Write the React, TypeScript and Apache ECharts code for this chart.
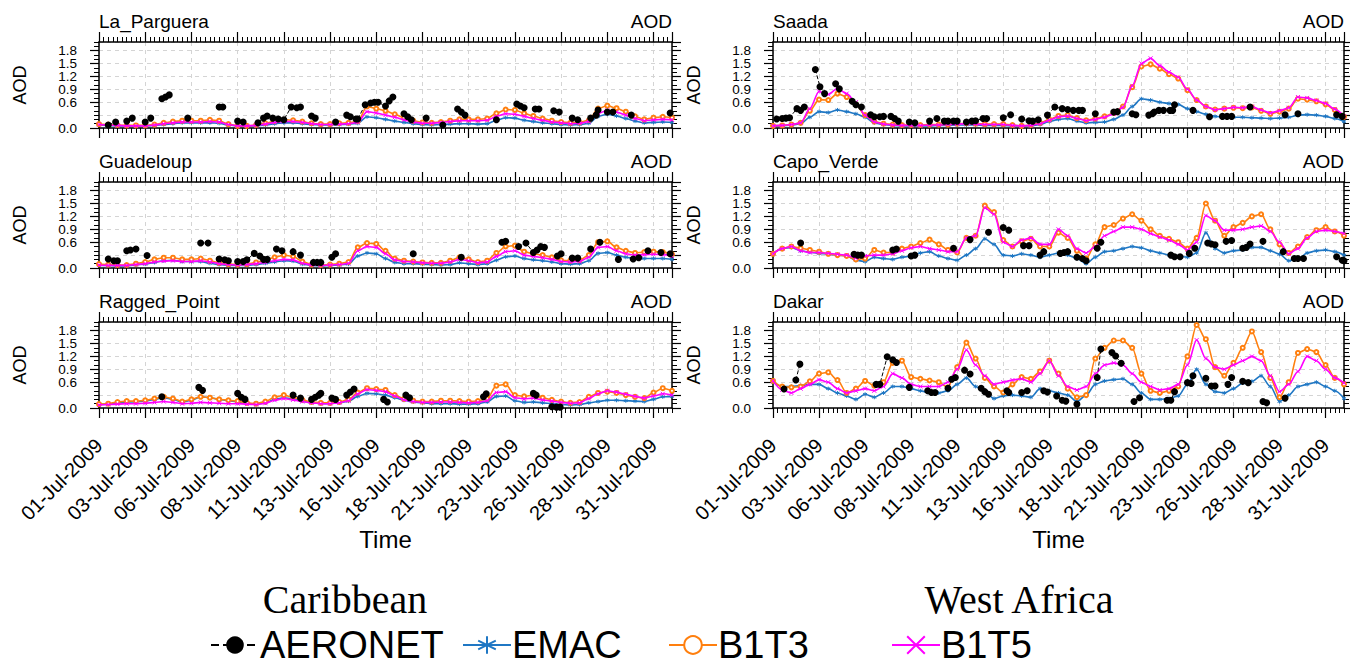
import React, { useEffect, useRef } from 'react';
import * as echarts from 'echarts';

// model output every 12 h, in days since 01-Jul-2009 00:00
const timeSteps: number[] = Array.from({ length: 63 }, (_, i) => i * 0.5);
const dateTickLabels = ['01-Jul-2009', '03-Jul-2009', '06-Jul-2009', '08-Jul-2009', '11-Jul-2009', '13-Jul-2009', '16-Jul-2009', '18-Jul-2009', '21-Jul-2009', '23-Jul-2009', '26-Jul-2009', '28-Jul-2009', '31-Jul-2009'];
const regionTitles = ['Caribbean', 'West Africa'];
const seriesNames = ['AERONET', 'EMAC', 'B1T3', 'B1T5'];

// ---------------- La_Parguera ----------------
const laParguera_EMAC = [0.07,0.06,0.05,0.05,0.05,0.05,0.06,0.08,0.1,0.12, 0.12,0.12,0.12,0.11,0.07,0.05,0.05,0.05,0.07,0.1, 0.12,0.12,0.1,0.08,0.07,0.07,0.08,0.09,0.11,0.26, 0.24,0.2,0.16,0.13,0.1,0.08,0.07,0.08,0.09,0.1, 0.1,0.09,0.1,0.18,0.24,0.23,0.18,0.15,0.12,0.1, 0.08,0.07,0.08,0.11,0.27,0.32,0.28,0.22,0.16,0.12, 0.13,0.14,0.13];
const laParguera_B1T3 = [0.09,0.08,0.07,0.06,0.06,0.06,0.08,0.12,0.15,0.17, 0.17,0.17,0.19,0.17,0.09,0.05,0.05,0.07,0.11,0.16, 0.19,0.18,0.15,0.11,0.09,0.09,0.11,0.12,0.16,0.5, 0.45,0.4,0.32,0.24,0.17,0.13,0.12,0.14,0.17,0.2, 0.2,0.2,0.22,0.34,0.43,0.42,0.34,0.28,0.22,0.17, 0.14,0.12,0.13,0.18,0.45,0.52,0.46,0.38,0.27,0.2, 0.24,0.26,0.24];
const laParguera_B1T5 = [0.08,0.07,0.06,0.05,0.05,0.05,0.07,0.1,0.12,0.14, 0.14,0.14,0.15,0.14,0.08,0.05,0.05,0.06,0.09,0.13, 0.15,0.15,0.13,0.1,0.08,0.08,0.09,0.1,0.13,0.38, 0.35,0.3,0.25,0.19,0.14,0.11,0.11,0.13,0.15,0.17, 0.17,0.17,0.18,0.27,0.33,0.32,0.27,0.22,0.18,0.14, 0.12,0.1,0.11,0.15,0.34,0.41,0.37,0.3,0.22,0.17, 0.19,0.2,0.19];
const laParguera_AERONET = [[0.5,0.07],[0.9,0.14],[1.5,0.16],[1.8,0.23],[2.5,0.14],[2.8,0.23],[3.4,0.68],[3.6,0.72],[3.8,0.77],[4.8,0.23],[6.5,0.49],[6.7,0.49],[7.5,0.16],[7.8,0.14],[8.6,0.12],[8.9,0.23],[9.1,0.28],[9.4,0.23],[9.7,0.21],[10.0,0.19],[10.4,0.49],[10.7,0.47],[10.9,0.49],[11.5,0.28],[11.7,0.23],[12.8,0.14],[13.4,0.3],[13.6,0.26],[13.9,0.21],[14.0,0.21],[14.4,0.54],[14.7,0.58],[14.9,0.6],[15.1,0.6],[15.5,0.51],[15.7,0.63],[15.9,0.72],[16.5,0.33],[16.7,0.26],[16.9,0.19],[17.7,0.23],[18.6,0.07],[19.4,0.44],[19.6,0.37],[19.8,0.3],[21.5,0.19],[22.6,0.56],[22.8,0.51],[23.0,0.47],[23.6,0.44],[23.8,0.44],[24.6,0.4],[24.9,0.37],[25.6,0.23],[25.9,0.19],[26.6,0.23],[26.9,0.3],[27.0,0.42],[27.5,0.37],[27.8,0.37],[28.8,0.3],[30.9,0.35]];

// ---------------- Guadeloup ----------------
const guadeloup_EMAC = [0.06,0.06,0.05,0.05,0.07,0.09,0.13,0.17,0.18,0.15, 0.15,0.15,0.11,0.08,0.06,0.06,0.06,0.08,0.11,0.14, 0.17,0.16,0.09,0.06,0.05,0.06,0.07,0.09,0.28,0.35, 0.33,0.22,0.13,0.1,0.1,0.09,0.08,0.07,0.08,0.12, 0.1,0.08,0.1,0.18,0.26,0.28,0.22,0.19,0.17,0.14, 0.1,0.09,0.1,0.17,0.34,0.36,0.3,0.25,0.22,0.22, 0.22,0.22,0.2];
const guadeloup_B1T3 = [0.09,0.08,0.07,0.07,0.1,0.14,0.2,0.24,0.24,0.2, 0.2,0.22,0.17,0.12,0.09,0.08,0.09,0.13,0.18,0.25, 0.3,0.27,0.15,0.08,0.07,0.08,0.1,0.14,0.48,0.58, 0.56,0.4,0.22,0.17,0.15,0.13,0.12,0.12,0.17,0.25, 0.2,0.14,0.17,0.35,0.5,0.52,0.38,0.33,0.3,0.25, 0.18,0.17,0.18,0.3,0.6,0.62,0.48,0.4,0.35,0.37, 0.38,0.37,0.32];
const guadeloup_B1T5 = [0.07,0.06,0.06,0.06,0.08,0.1,0.14,0.16,0.17,0.15, 0.15,0.17,0.14,0.1,0.08,0.07,0.08,0.1,0.13,0.17, 0.2,0.19,0.11,0.07,0.06,0.07,0.08,0.11,0.4,0.5, 0.48,0.33,0.19,0.15,0.14,0.12,0.11,0.11,0.14,0.2, 0.17,0.12,0.14,0.27,0.38,0.4,0.3,0.27,0.24,0.2, 0.15,0.14,0.15,0.25,0.48,0.5,0.4,0.33,0.3,0.31, 0.32,0.31,0.28];
const guadeloup_AERONET = [[0.5,0.21],[0.8,0.17],[1.0,0.17],[1.5,0.4],[1.7,0.42],[2.0,0.44],[2.6,0.29],[5.5,0.58],[5.9,0.58],[6.5,0.21],[6.8,0.19],[7.0,0.17],[7.5,0.15],[7.8,0.15],[8.0,0.19],[8.4,0.34],[8.7,0.28],[8.9,0.2],[9.1,0.2],[9.6,0.44],[9.9,0.4],[10.5,0.38],[10.9,0.3],[11.6,0.13],[11.8,0.13],[12.0,0.13],[12.6,0.25],[12.8,0.33],[17.0,0.33],[19.6,0.25],[21.8,0.6],[22.0,0.62],[22.7,0.5],[23.1,0.58],[23.5,0.36],[23.7,0.42],[23.9,0.5],[24.1,0.48],[24.8,0.28],[25.0,0.33],[25.6,0.23],[25.9,0.23],[26.6,0.44],[27.1,0.6],[28.1,0.2],[28.9,0.21],[29.2,0.24],[29.7,0.4],[30.4,0.36],[30.9,0.33]];

// ---------------- Ragged_Point ----------------
const raggedPoint_EMAC = [0.08,0.09,0.12,0.14,0.14,0.16,0.2,0.24,0.2,0.14, 0.18,0.26,0.24,0.2,0.17,0.14,0.11,0.09,0.12,0.2, 0.24,0.21,0.16,0.12,0.1,0.1,0.12,0.16,0.27,0.34, 0.33,0.3,0.24,0.18,0.14,0.12,0.1,0.1,0.1,0.09, 0.09,0.1,0.14,0.27,0.28,0.17,0.13,0.14,0.12,0.1, 0.08,0.07,0.08,0.12,0.15,0.18,0.18,0.17,0.16,0.15, 0.2,0.26,0.27];
const raggedPoint_B1T3 = [0.09,0.1,0.14,0.16,0.16,0.18,0.22,0.26,0.22,0.15, 0.2,0.26,0.24,0.2,0.18,0.16,0.12,0.1,0.15,0.25, 0.3,0.25,0.19,0.14,0.12,0.12,0.14,0.2,0.36,0.46, 0.44,0.42,0.3,0.21,0.17,0.15,0.15,0.17,0.17,0.16, 0.15,0.16,0.22,0.52,0.55,0.3,0.27,0.3,0.24,0.19, 0.15,0.12,0.14,0.26,0.35,0.38,0.35,0.3,0.26,0.23, 0.36,0.46,0.4];
const raggedPoint_B1T5 = [0.07,0.08,0.09,0.1,0.1,0.11,0.13,0.15,0.13,0.1, 0.11,0.13,0.12,0.11,0.1,0.1,0.09,0.08,0.11,0.18, 0.22,0.19,0.15,0.12,0.1,0.1,0.12,0.17,0.33,0.43, 0.41,0.38,0.28,0.19,0.15,0.13,0.13,0.14,0.14,0.13, 0.12,0.13,0.17,0.36,0.38,0.24,0.21,0.23,0.19,0.16, 0.13,0.11,0.12,0.22,0.33,0.4,0.37,0.32,0.27,0.23, 0.28,0.33,0.3];
const raggedPoint_AERONET = [[3.4,0.26],[5.4,0.48],[5.6,0.41],[7.5,0.34],[7.7,0.25],[7.9,0.2],[10.5,0.3],[10.9,0.23],[11.5,0.2],[11.7,0.25],[11.9,0.3],[12.0,0.34],[12.6,0.23],[12.8,0.2],[13.4,0.3],[13.6,0.37],[13.8,0.44],[15.4,0.2],[15.6,0.14],[16.6,0.3],[16.8,0.24],[20.8,0.26],[20.95,0.33],[23.5,0.34],[23.65,0.3],[24.5,0.03],[24.75,0.02],[24.95,0.02]];

// ---------------- Saada ----------------
const saada_EMAC = [0.04,0.05,0.07,0.1,0.25,0.38,0.36,0.42,0.38,0.33, 0.25,0.12,0.08,0.06,0.05,0.05,0.05,0.05,0.06,0.06, 0.07,0.07,0.07,0.06,0.06,0.06,0.05,0.04,0.05,0.08, 0.15,0.2,0.22,0.16,0.12,0.13,0.14,0.2,0.3,0.5, 0.68,0.65,0.6,0.57,0.55,0.45,0.38,0.32,0.27,0.25, 0.25,0.25,0.24,0.23,0.22,0.23,0.25,0.3,0.31,0.3, 0.27,0.22,0.15];
const saada_B1T3 = [0.05,0.06,0.08,0.12,0.4,0.66,0.65,0.8,0.72,0.55, 0.3,0.15,0.1,0.08,0.07,0.07,0.07,0.08,0.08,0.08, 0.1,0.11,0.1,0.09,0.09,0.09,0.07,0.05,0.07,0.12, 0.2,0.28,0.3,0.23,0.18,0.22,0.27,0.35,0.5,0.95, 1.43,1.48,1.38,1.25,1.15,0.88,0.65,0.5,0.43,0.45, 0.47,0.46,0.48,0.4,0.33,0.38,0.45,0.68,0.66,0.62, 0.55,0.42,0.26];
const saada_B1T5 = [0.05,0.06,0.08,0.12,0.45,0.85,0.78,0.92,0.8,0.6, 0.3,0.14,0.09,0.07,0.06,0.06,0.06,0.07,0.07,0.08, 0.09,0.1,0.09,0.08,0.08,0.08,0.06,0.05,0.06,0.1, 0.18,0.26,0.28,0.22,0.17,0.2,0.25,0.33,0.48,0.98, 1.5,1.62,1.45,1.3,1.18,0.9,0.65,0.5,0.42,0.45, 0.48,0.47,0.5,0.42,0.35,0.4,0.47,0.72,0.7,0.64, 0.57,0.44,0.27];
const saada_AERONET = [[0.2,0.21],[0.5,0.22],[0.7,0.23],[0.9,0.24],[1.3,0.45],[1.5,0.41],[1.7,0.49],[2.3,1.36],[2.55,0.96],[2.8,0.8],[3.4,1.03],[3.6,0.91],[4.3,0.62],[4.5,0.54],[4.8,0.49],[5.3,0.31],[5.5,0.26],[5.8,0.26],[6.0,0.27],[6.4,0.27],[6.6,0.22],[6.8,0.16],[7.4,0.14],[7.7,0.12],[8.5,0.16],[8.9,0.22],[9.3,0.16],[9.5,0.16],[9.8,0.16],[10.0,0.16],[10.5,0.14],[10.8,0.16],[11.0,0.17],[11.4,0.22],[11.6,0.22],[12.5,0.24],[12.9,0.31],[13.5,0.21],[13.9,0.17],[14.1,0.16],[14.4,0.19],[14.9,0.3],[15.3,0.49],[15.7,0.45],[16.0,0.43],[16.3,0.41],[16.6,0.41],[16.8,0.41],[17.5,0.33],[18.5,0.37],[18.7,0.38],[19.5,0.33],[19.7,0.31],[20.4,0.3],[20.6,0.33],[20.7,0.37],[20.95,0.41],[21.2,0.41],[21.55,0.41],[21.7,0.41],[21.8,0.54],[22.8,0.41],[23.7,0.26],[24.4,0.27],[24.65,0.27],[24.9,0.27],[25.9,0.49],[27.8,0.31],[28.5,0.33],[30.6,0.31],[30.9,0.27]];

// ---------------- Capo_Verde ----------------
const capoVerde_EMAC = [0.33,0.45,0.48,0.4,0.37,0.34,0.32,0.3,0.28,0.18, 0.15,0.25,0.22,0.2,0.25,0.28,0.35,0.38,0.28,0.22, 0.18,0.3,0.45,0.68,0.55,0.3,0.28,0.33,0.3,0.25, 0.3,0.35,0.3,0.22,0.1,0.25,0.38,0.4,0.45,0.5, 0.47,0.4,0.35,0.3,0.27,0.25,0.35,0.82,0.45,0.35, 0.4,0.42,0.48,0.48,0.4,0.32,0.17,0.2,0.35,0.4, 0.42,0.38,0.3];
const capoVerde_B1T3 = [0.33,0.45,0.5,0.46,0.42,0.38,0.33,0.3,0.28,0.2, 0.22,0.42,0.36,0.36,0.45,0.5,0.58,0.66,0.55,0.42, 0.36,0.7,0.75,1.45,1.3,0.65,0.5,0.62,0.68,0.5, 0.5,0.82,0.7,0.4,0.22,0.55,0.95,1.0,1.15,1.25, 1.1,0.9,0.75,0.68,0.6,0.45,0.7,1.5,1.1,0.75, 0.95,1.05,1.2,1.25,0.9,0.55,0.35,0.5,0.72,0.88, 0.95,0.85,0.75];
const capoVerde_B1T5 = [0.33,0.45,0.5,0.4,0.36,0.36,0.34,0.32,0.3,0.23, 0.28,0.3,0.3,0.33,0.4,0.47,0.5,0.45,0.42,0.38, 0.38,0.7,0.75,1.4,1.25,0.6,0.5,0.65,0.7,0.55, 0.55,0.9,0.75,0.45,0.35,0.5,0.75,0.85,0.95,0.95, 0.9,0.8,0.72,0.65,0.55,0.42,0.6,1.22,1.1,0.88, 0.88,0.9,0.95,0.98,0.85,0.6,0.33,0.45,0.7,0.85, 0.88,0.85,0.8];
const capoVerde_AERONET = [[1.5,0.58],[4.4,0.32],[4.6,0.3],[4.8,0.3],[6.5,0.42],[6.7,0.44],[7.5,0.28],[7.7,0.3],[9.8,0.46],[10.7,0.66],[11.7,0.83],[12.5,0.94],[12.8,0.88],[13.6,0.52],[13.9,0.52],[14.5,0.3],[14.7,0.38],[15.6,0.34],[15.8,0.36],[16.0,0.38],[16.5,0.25],[16.8,0.22],[17.0,0.17],[17.6,0.46],[17.8,0.6],[21.6,0.3],[21.8,0.26],[22.1,0.26],[22.6,0.34],[22.9,0.46],[23.6,0.58],[23.8,0.56],[24.0,0.54],[24.6,0.62],[24.9,0.64],[25.5,0.46],[25.7,0.48],[25.9,0.56],[26.6,0.62],[27.7,0.38],[28.3,0.22],[28.5,0.22],[28.8,0.22],[30.6,0.26],[30.9,0.18],[31.0,0.17]];

// ---------------- Dakar ----------------
const dakar_EMAC = [0.6,0.5,0.5,0.52,0.55,0.55,0.45,0.35,0.28,0.2, 0.32,0.25,0.35,0.5,0.5,0.45,0.4,0.35,0.35,0.4, 0.55,0.7,0.5,0.38,0.22,0.28,0.3,0.28,0.25,0.45, 0.4,0.35,0.3,0.15,0.3,0.55,0.63,0.66,0.68,0.55, 0.35,0.2,0.2,0.22,0.28,0.55,0.9,0.55,0.38,0.35, 0.45,0.58,0.62,0.75,0.5,0.15,0.3,0.5,0.55,0.6, 0.5,0.4,0.22];
const dakar_B1T3 = [0.63,0.5,0.48,0.5,0.62,0.8,0.83,0.65,0.35,0.45, 0.63,0.52,0.6,1.05,1.1,0.72,0.68,0.64,0.6,0.48, 0.95,1.52,1.15,0.7,0.5,0.36,0.55,0.72,0.68,0.85, 1.1,0.8,0.45,0.25,0.3,1.15,1.4,1.57,1.57,1.4, 0.8,0.4,0.35,0.4,0.5,1.2,1.93,1.6,0.95,0.75, 1.05,1.4,1.78,1.3,0.7,0.25,0.6,1.28,1.37,1.3, 1.0,0.7,0.55];
const dakar_B1T5 = [0.63,0.42,0.35,0.45,0.55,0.66,0.6,0.45,0.35,0.4, 0.45,0.4,0.5,0.8,0.7,0.55,0.5,0.5,0.5,0.6, 0.9,1.35,1.0,0.75,0.55,0.6,0.65,0.68,0.6,0.8, 1.1,0.75,0.5,0.42,0.5,0.8,1.0,1.05,1.0,0.8, 0.6,0.5,0.42,0.45,0.55,1.0,1.58,1.15,0.95,0.9, 1.0,1.1,1.2,1.1,0.75,0.38,0.55,0.85,1.2,1.1, 0.9,0.7,0.58];
const dakar_AERONET = [[0.6,0.44],[1.24,0.65],[1.46,1.02],[5.6,0.55],[5.8,0.55],[6.2,1.19],[6.5,1.12],[6.7,1.06],[7.4,0.48],[8.4,0.4],[8.6,0.36],[8.8,0.36],[9.5,0.46],[9.7,0.67],[9.9,0.71],[10.4,0.88],[10.7,0.79],[11.3,0.46],[11.5,0.38],[11.7,0.32],[12.7,0.4],[12.8,0.36],[13.5,0.36],[13.8,0.4],[14.7,0.4],[14.9,0.37],[15.4,0.28],[15.7,0.18],[15.9,0.16],[16.5,0.09],[17.6,0.71],[17.8,1.37],[18.4,1.29],[18.6,1.21],[18.9,1.04],[19.6,0.15],[19.9,0.24],[21.4,0.18],[21.6,0.18],[21.8,0.38],[22.5,0.59],[22.7,0.57],[22.8,0.75],[23.5,0.69],[23.8,0.51],[24.0,0.51],[24.7,0.55],[24.9,0.71],[25.5,0.62],[25.8,0.59],[26.6,0.15],[26.8,0.12],[27.8,0.23]];

const panels = [
  { name: 'La_Parguera', col: 0, row: 0, emac: laParguera_EMAC, b1t3: laParguera_B1T3, b1t5: laParguera_B1T5, aeronet: laParguera_AERONET },
  { name: 'Guadeloup', col: 0, row: 1, emac: guadeloup_EMAC, b1t3: guadeloup_B1T3, b1t5: guadeloup_B1T5, aeronet: guadeloup_AERONET },
  { name: 'Ragged_Point', col: 0, row: 2, emac: raggedPoint_EMAC, b1t3: raggedPoint_B1T3, b1t5: raggedPoint_B1T5, aeronet: raggedPoint_AERONET },
  { name: 'Saada', col: 1, row: 0, emac: saada_EMAC, b1t3: saada_B1T3, b1t5: saada_B1T5, aeronet: saada_AERONET },
  { name: 'Capo_Verde', col: 1, row: 1, emac: capoVerde_EMAC, b1t3: capoVerde_B1T3, b1t5: capoVerde_B1T5, aeronet: capoVerde_AERONET },
  { name: 'Dakar', col: 1, row: 2, emac: dakar_EMAC, b1t3: dakar_B1T3, b1t5: dakar_B1T5, aeronet: dakar_AERONET },
];

const COLORS = { AERONET: '#000000', EMAC: '#1f77c4', B1T3: '#ff7f0e', B1T5: '#ff00ff' };
const FONT = "'Liberation Sans', Arial, Helvetica, sans-serif";
const SYM_ASTERISK = 'path://M5 0L5 10M0.67 2.5L9.33 7.5M9.33 2.5L0.67 7.5';
const SYM_CROSS = 'path://M0 0L10 10M10 0L0 10';

function withGaps(pts: number[][]) {
  const out: any[] = [];
  pts.forEach((p, i) => {
    if (i > 0 && p[0] - pts[i - 1][0] > 0.45) out.push([(p[0] + pts[i - 1][0]) / 2, '-']);
    out.push(p);
  });
  return out;
}

function xFormatter(v: number) {
  const k = v / 2.5;
  const r = Math.round(k);
  return Math.abs(k - r) < 1e-6 && r < dateTickLabels.length ? dateTickLabels[r] : '';
}

function buildOption() {
  const grid: any[] = [];
  const xAxis: any[] = [];
  const yAxis: any[] = [];
  const series: any[] = [];
  const graphic: any[] = [];
  const lineBlack = { color: '#000', width: 1.5 };

  panels.forEach((p, i) => {
    const left = p.col ? 773 : 99;
    const width = p.col ? 571 : 573;
    const top = 42 + 140 * p.row;
    grid.push({ left, top, width, height: 86 });
    const bottomRow = p.row === 2;

    const xBase = { type: 'value', gridIndex: i, min: 0, max: 31, axisLabel: { show: false }, splitLine: { show: false } };
    xAxis.push({
      ...xBase, position: 'bottom', interval: 2.5,
      axisLine: { show: true, onZero: false, lineStyle: lineBlack },
      axisTick: { show: true, length: 10, lineStyle: { color: '#000', width: 1.2 } },
      splitLine: { show: true, lineStyle: { type: [4, 4], color: '#d4d4d4', width: 1 } },
      axisLabel: bottomRow
        ? { show: true, rotate: 45, margin: 34, fontSize: 20, fontFamily: FONT, color: '#000', showMinLabel: true, showMaxLabel: false, formatter: xFormatter }
        : { show: false },
      name: bottomRow ? 'Time' : '', nameLocation: 'middle', nameGap: 119,
      nameTextStyle: { fontSize: 24, fontFamily: FONT, color: '#000' },
    });
    xAxis.push({ ...xBase, position: 'bottom', interval: 0.25, axisLine: { show: false, onZero: false }, axisTick: { show: true, length: 5, lineStyle: { color: '#000', width: 1 } } });
    xAxis.push({ ...xBase, position: 'top', interval: 2.5, axisLine: { show: true, onZero: false, lineStyle: lineBlack }, axisTick: { show: true, length: 10, lineStyle: { color: '#000', width: 1.2 } } });
    xAxis.push({ ...xBase, position: 'top', interval: 0.25, axisLine: { show: false, onZero: false }, axisTick: { show: true, length: 5, lineStyle: { color: '#000', width: 1 } } });

    const yBase = { type: 'value', gridIndex: i, min: 0, max: 2.0, axisLabel: { show: false }, splitLine: { show: false } };
    yAxis.push({
      ...yBase, position: 'left', interval: 0.3,
      axisLine: { show: true, onZero: false, lineStyle: lineBlack },
      axisTick: { show: true, length: 9, lineStyle: { color: '#000', width: 1.2 } },
      splitLine: { show: true, lineStyle: { type: [4, 4], color: '#d4d4d4', width: 1 } },
      axisLabel: { show: true, margin: 22, fontSize: 13.5, lineHeight: 12, fontFamily: FONT, color: '#000', showMinLabel: true, showMaxLabel: false, hideOverlap: false, formatter: (v: number) => v.toFixed(1) },
      name: 'AOD', nameLocation: 'middle', nameGap: 70, nameRotate: 90,
      nameTextStyle: { fontSize: 18, fontFamily: FONT, color: '#000' },
    });
    yAxis.push({ ...yBase, position: 'left', interval: 0.1, axisLine: { show: false, onZero: false }, axisTick: { show: true, length: 5, lineStyle: { color: '#000', width: 1 } } });
    yAxis.push({ ...yBase, position: 'right', interval: 0.3, axisLine: { show: true, onZero: false, lineStyle: lineBlack }, axisTick: { show: true, length: 9, lineStyle: { color: '#000', width: 1.2 } } });
    yAxis.push({ ...yBase, position: 'right', interval: 0.1, axisLine: { show: false, onZero: false }, axisTick: { show: true, length: 5, lineStyle: { color: '#000', width: 1 } } });

    const ax = { xAxisIndex: 4 * i, yAxisIndex: 4 * i };
    const model = (name: string, vals: number[], symbol: string, z: number) => ({
      type: 'line', name, ...ax, z,
      data: timeSteps.map((t, k) => [t, vals[k]]),
      smooth: 0.3, smoothMonotone: 'x',
      symbol, symbolSize: 4, showSymbol: true,
      lineStyle: { color: (COLORS as any)[name], width: 1.6 },
      itemStyle: { color: (COLORS as any)[name], borderColor: (COLORS as any)[name], borderWidth: 1 },
    });
    series.push(model('EMAC', p.emac, SYM_ASTERISK, 2));
    series.push(model('B1T3', p.b1t3, 'emptyCircle', 3));
    series.push(model('B1T5', p.b1t5, SYM_CROSS, 4));
    series.push({
      type: 'line', name: 'AERONET', ...ax, z: 5,
      data: withGaps(p.aeronet), connectNulls: false,
      symbol: 'circle', symbolSize: 7, showSymbol: true,
      lineStyle: { color: '#000', width: 1, type: 'dashed' },
      itemStyle: { color: '#000' },
    });

    graphic.push({ type: 'text', x: left, y: top - 21, style: { text: p.name, font: `19px ${FONT}`, fill: '#000', align: 'left', verticalAlign: 'middle' } });
    graphic.push({ type: 'text', x: left + width, y: top - 21, style: { text: 'AOD', font: `19px ${FONT}`, fill: '#000', align: 'right', verticalAlign: 'middle' } });
  });

  graphic.push({ type: 'text', x: 345, y: 599, style: { text: regionTitles[0], font: `40px 'Liberation Serif', 'DejaVu Serif', serif`, fill: '#000', align: 'center', verticalAlign: 'middle' } });
  graphic.push({ type: 'text', x: 1019, y: 599, style: { text: regionTitles[1], font: `40px 'Liberation Serif', 'DejaVu Serif', serif`, fill: '#000', align: 'center', verticalAlign: 'middle' } });

  const legendLefts = [210, 462, 668, 891];
  const legend = seriesNames.map((n, k) => ({
    data: [n], left: legendLefts[k], top: 626, padding: 0, itemGap: 0,
    itemWidth: 48, itemHeight: 22, selectedMode: false,
    textStyle: { fontSize: 38, lineHeight: 38, fontFamily: FONT, color: '#000', padding: [0, 0, 0, -4] },
  }));

  return { animation: false, backgroundColor: '#fff', grid, xAxis, yAxis, series, graphic, legend };
}

export default function App() {
  const ref = useRef<HTMLDivElement>(null);
  useEffect(() => {
    document.body.style.margin = '0';
    if (!ref.current) return;
    const chart = echarts.init(ref.current, undefined, { renderer: 'svg' });
    chart.setOption(buildOption() as any);
    return () => chart.dispose();
  }, []);
  return <div ref={ref} style={{ width: 1350, height: 667 }} />;
}
